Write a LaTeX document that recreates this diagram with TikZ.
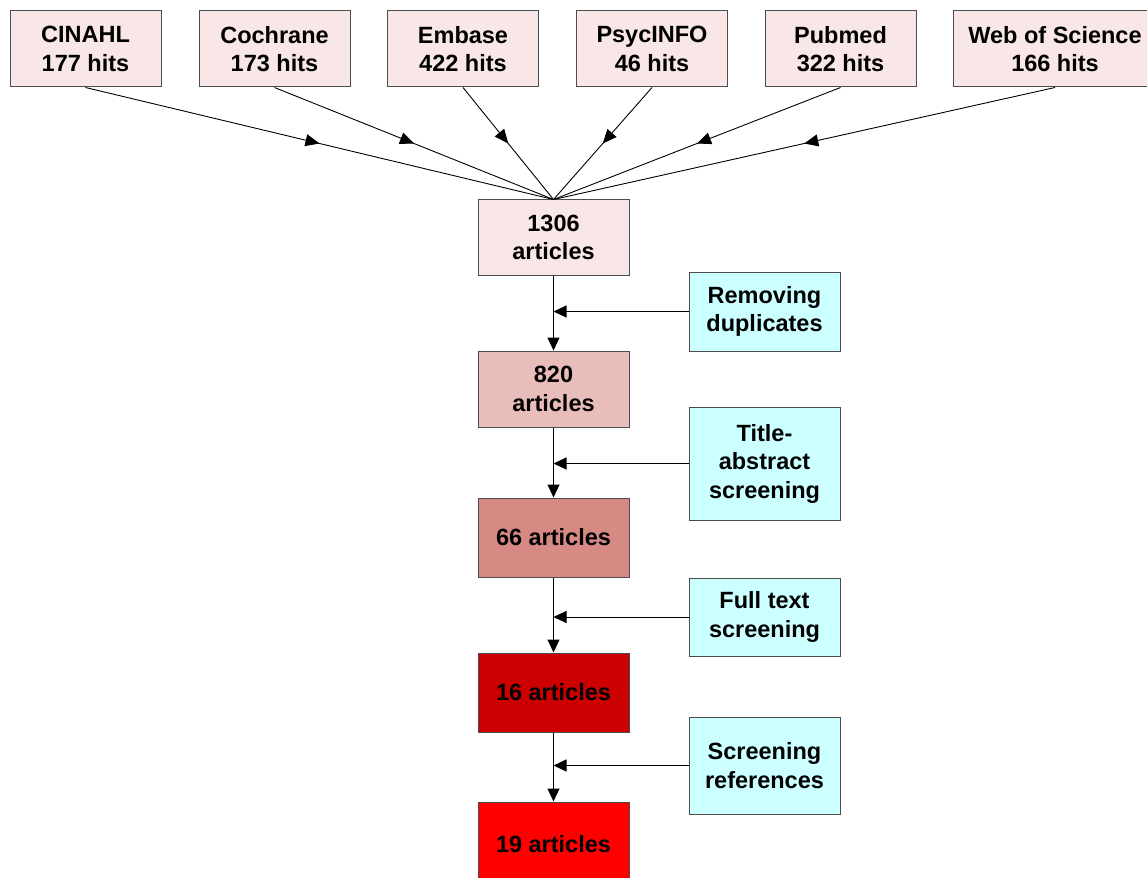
\documentclass[tikz,border=0pt]{standalone}
\usepackage{fontspec}
\setmainfont{Liberation Sans}
\usetikzlibrary{positioning, arrows.meta, decorations.markings}
\definecolor{srcpink}{HTML}{F8E7E6}
\definecolor{lvlone}{HTML}{E9BDBA}
\definecolor{lvltwo}{HTML}{D78A83}
\definecolor{lvlthree}{HTML}{CC0000}
\definecolor{lvlfour}{HTML}{FF0000}
\definecolor{sidecyan}{HTML}{CCFFFF}
\tikzstyle{box}=[draw=black!70,line width=1pt,minimum width=151pt,inner sep=0pt,align=center,font=\fontsize{23.5}{28.5}\selectfont\bfseries]
\tikzstyle{srcbox}=[box,fill=srcpink,minimum height=76pt]
\tikzstyle{sidebox}=[box,fill=sidecyan]
\tikzstyle{link}=[line width=1pt,-{Triangle[length=13pt,width=12pt]}]
\tikzstyle{midarrow}=[line width=0.9pt,postaction={decorate},
  decoration={markings,mark=at position 0.5 with {\arrow{Triangle[length=14pt,width=12pt]}}}]

\begin{document}
\begin{tikzpicture}[x=1pt,y=-1pt]
  \useasboundingbox (0,0) rectangle (1147,877);
  \clip (0,0) rectangle (1147,877);
  % databases
  \foreach \name/\cx/\bw/\txt in {cinahl/85.5/151/CINAHL\\177 hits,
      cochrane/274.5/151/Cochrane\\173 hits, embase/463/151/Embase\\422 hits,
      psycinfo/652/151/PsycINFO\\46 hits, pubmed/840.5/151/Pubmed\\322 hits,
      wos/1055/204/Web of Science\\166 hits}
    \node[srcbox,minimum width=\bw pt] (\name) at (\cx,49) {\txt};
  % article counts
  \node[box,fill=srcpink,minimum height=75pt] (n1306) at (553.5,237.5) {1306\\articles};
  \node[box,fill=lvlone,minimum height=76pt] (n820) at (553.5,389) {820\\articles};
  \node[box,fill=lvltwo,minimum height=79pt] (n66) at (553.5,537.5) {66 articles};
  \node[box,fill=lvlthree,minimum height=79pt] (n16) at (553.5,692.5) {16 articles};
  \node[box,fill=lvlfour,minimum height=84pt] (n19) at (553.5,844) {19 articles};
  % screening steps
  \node[sidebox,minimum height=79pt] (dupl) at (764.5,311.5) {Removing\\duplicates};
  \node[sidebox,minimum height=113pt] (titab) at (764.5,463.5) {Title-\\abstract\\screening};
  \node[sidebox,minimum height=78pt] (fulltx) at (764.5,617) {Full text\\screening};
  \node[sidebox,minimum height=97pt] (refs) at (764.5,765.5) {Screening\\references};
  \foreach \name in {cinahl,cochrane,embase,psycinfo,pubmed,wos}
    \draw[midarrow] (\name.south) -- (n1306.north);
  \draw[link] (n1306) -- (n820);
  \draw[link] (n820) -- (n66);
  \draw[link] (n66) -- (n16);
  \draw[link] (n16) -- (n19);
  \draw[link] (dupl.west) -- (dupl.west -| n1306.south);
  \draw[link] (titab.west) -- (titab.west -| n820.south);
  \draw[link] (fulltx.west) -- (fulltx.west -| n66.south);
  \draw[link] (refs.west) -- (refs.west -| n16.south);
\end{tikzpicture}
\end{document}
